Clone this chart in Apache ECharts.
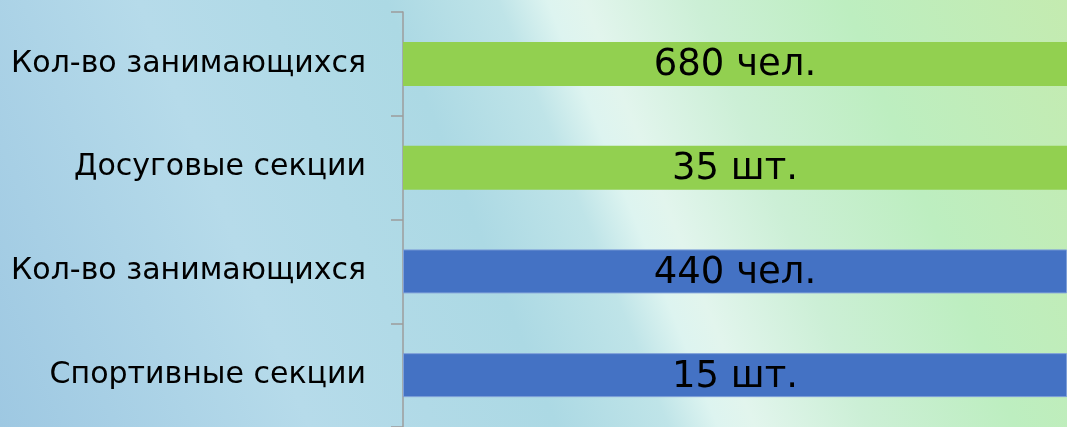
<!DOCTYPE html>
<html>
<head>
<meta charset="utf-8">
<script src="https://cdn.jsdelivr.net/npm/echarts@6/dist/echarts.min.js"></script>
<style>
html,body{margin:0;padding:0;}
#chart{width:1067px;height:427px;}
</style>
</head>
<body>
<div id="chart"></div>
<script>
const categories = ["Кол-во занимающихся", "Досуговые секции", "Кол-во занимающихся", "Спортивные секции"];
const barLabels = ["680 чел.", "35 шт.", "440 чел.", "15 шт."];
const barValues = [100, 100, 100, 100];
const barColors = ["#92D050", "#92D050", "#4472C4", "#4472C4"];

const chart = echarts.init(document.getElementById('chart'));
chart.setOption({
  backgroundColor: {
    type: 'linear', x: 0, y: 1, x2: 1, y2: 0,
    colorStops: [
      {offset: 0, color: '#9ec8e2'},
      {offset: 0.25, color: '#b6dbea'},
      {offset: 0.45, color: '#acd9e4'},
      {offset: 0.54, color: '#bfe4e8'},
      {offset: 0.58, color: '#ddf4f0'},
      {offset: 0.61, color: '#e2f5ed'},
      {offset: 0.7, color: '#ccefd6'},
      {offset: 0.82, color: '#bdeec0'},
      {offset: 1, color: '#c4ebb0'}
    ]
  },
  animation: false,
  grid: {left: 403, right: 0, top: 12, bottom: -2, containLabel: false},
  xAxis: {type: 'value', min: 0, max: 100, show: false},
  yAxis: {
    type: 'category',
    data: categories,
    inverse: true,
    boundaryGap: true,
    axisLine: {show: true, lineStyle: {color: '#9c9c9c', width: 1.5}},
    axisTick: {show: true, length: 12, lineStyle: {color: '#9c9c9c', width: 1.5}},
    axisLabel: {
      margin: 37,
      fontFamily: 'DejaVu Sans',
      fontSize: 30,
      color: '#000'
    },
    splitLine: {show: false}
  },
  series: [{
    type: 'bar',
    barWidth: 44,
    data: barValues.map((v, i) => ({
      value: v,
      itemStyle: {
        color: barColors[i],
        borderColor: i >= 2 ? '#7fa0d8' : barColors[i],
        borderWidth: i >= 2 ? 1 : 0
      },
      label: {formatter: barLabels[i]}
    })),
    label: {
      show: true,
      position: 'inside',
      fontFamily: 'DejaVu Sans',
      fontSize: 37,
      color: '#000',
      offset: [0, 2]
    }
  }]
});
</script>
</body>
</html>
